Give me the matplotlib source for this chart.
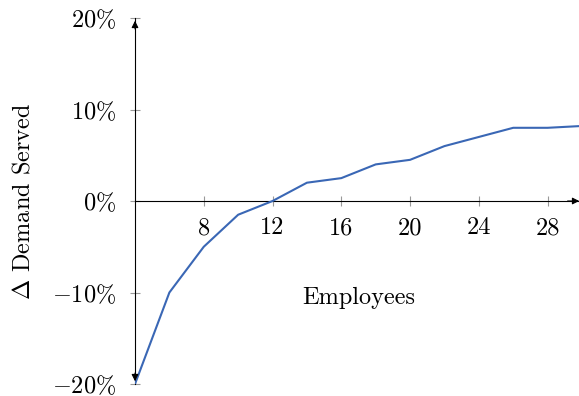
import matplotlib
matplotlib.use("Agg")
import matplotlib.pyplot as plt

plt.rcParams["font.family"] = ["cmr10", "DejaVu Serif"]
plt.rcParams["mathtext.fontset"] = "cm"
plt.rcParams["axes.formatter.use_mathtext"] = True

employees = [4, 6, 8, 10, 12, 14, 16, 18, 20, 22, 24, 26, 28, 30]
demand_delta = [-20, -10, -5, -1.5, 0, 2, 2.5, 4, 4.5, 6, 7, 8, 8, 8.2]
x_ticks = [8, 12, 16, 20, 24, 28]
y_ticks = [-20, -10, 0, 10, 20]

fig = plt.figure(figsize=(5.79, 3.96), dpi=100)
ax = fig.add_axes([135 / 579, 12 / 396, 447 / 579, 366 / 396])

ax.plot(employees, demand_delta, color="#3a67b5", lw=1.5, zorder=3)

ax.set_xlim(4, 30)
ax.set_ylim(-20, 20)

ax.spines["top"].set_visible(False)
ax.spines["right"].set_visible(False)
ax.spines["bottom"].set_position(("data", 0))
for s in ("left", "bottom"):
    ax.spines[s].set_linewidth(0.8)

# arrow heads on the axis lines
arrow = dict(arrowstyle="-|>", color="black", lw=0.8, mutation_scale=10)
ax.annotate("", xy=(4, 20), xytext=(4, 18.5), arrowprops=arrow,
            annotation_clip=False)
ax.annotate("", xy=(4, -20), xytext=(4, -18.5), arrowprops=arrow,
            annotation_clip=False)
ax.annotate("", xy=(30, 0), xytext=(29, 0), arrowprops=arrow,
            annotation_clip=False)

ax.set_xticks(x_ticks)
ax.set_xticklabels([str(v) for v in x_ticks])
ax.set_yticks(y_ticks)
ax.set_yticklabels([r"$%d\%%$" % v if v >= 0 else r"$-%d\%%$" % -v for v in y_ticks])

ax.tick_params(axis="both", direction="inout", length=7, width=0.8,
               color="#999999", labelsize=17.5)
ax.tick_params(axis="x", pad=8)
ax.tick_params(axis="y", pad=10)

ax.set_xlabel("Employees", fontsize=17.5)
ax.xaxis.set_label_coords(0.5, 0.265)
ax.set_ylabel(r"$\Delta$ Demand Served", fontsize=17.5)
ax.yaxis.set_label_coords(-0.225, 0.5)

fig.savefig("out.png", dpi=100)
